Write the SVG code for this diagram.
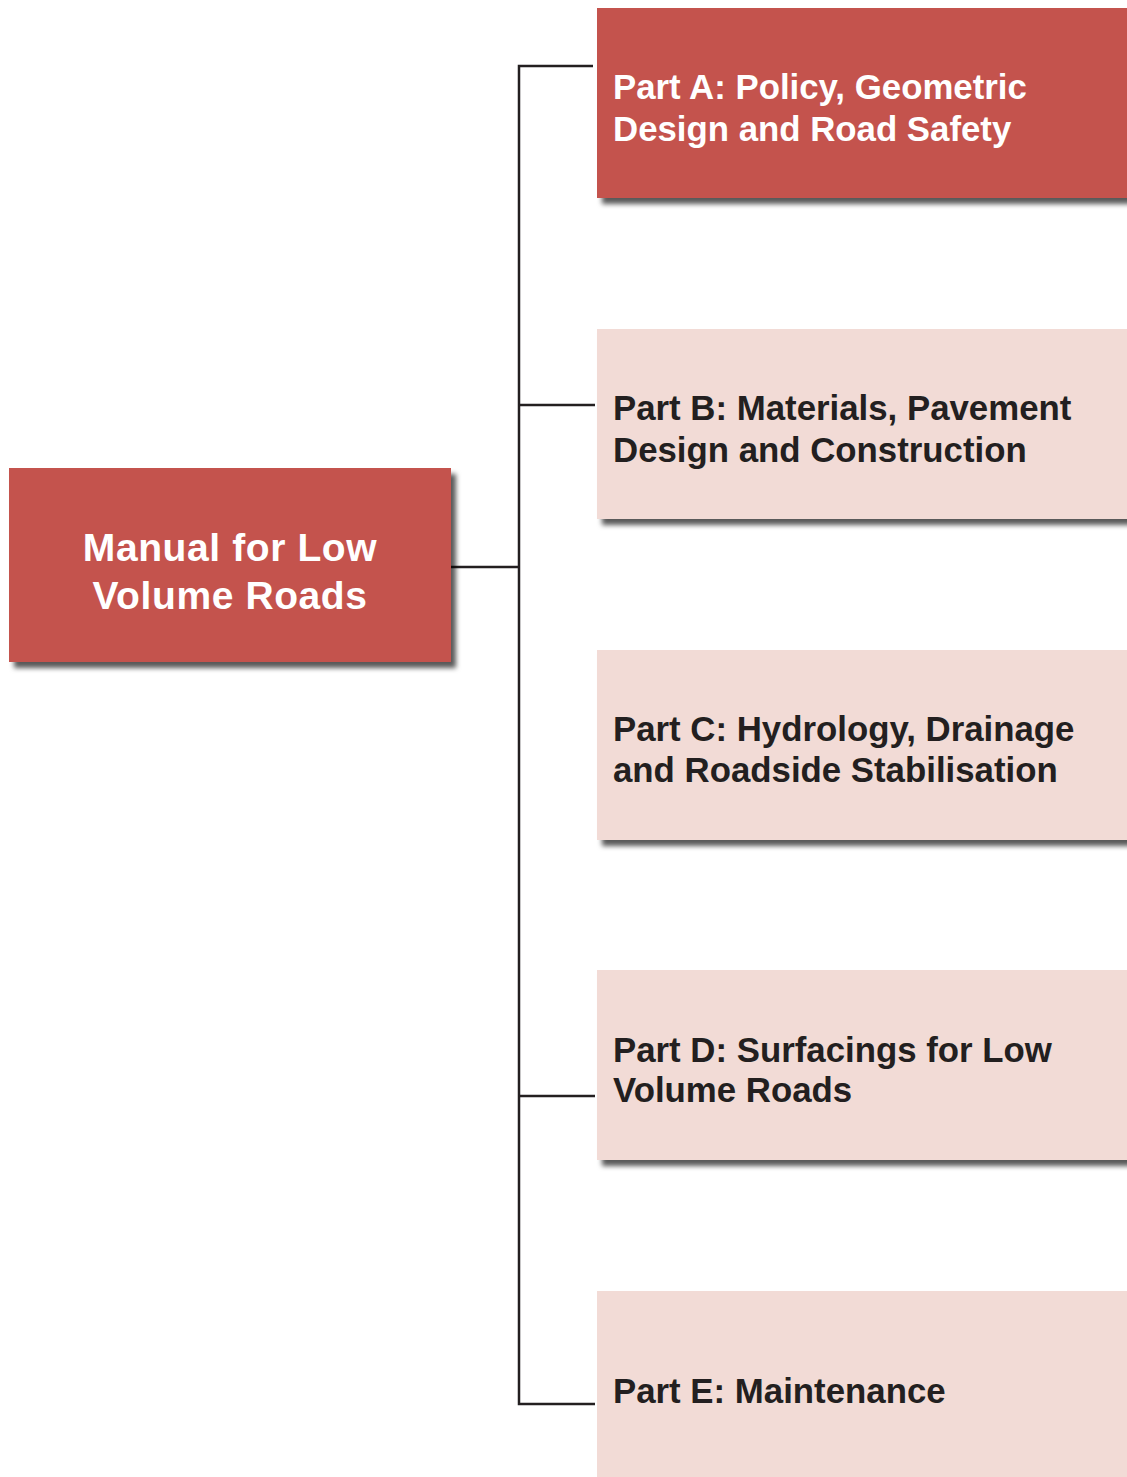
<svg xmlns="http://www.w3.org/2000/svg" width="1127" height="1477" viewBox="0 0 1127 1477">
<style>
.dark{fill:#c4524e}
.light{fill:#f2dbd6}
.t{font-family:"Liberation Sans",Arial,Helvetica,sans-serif;font-weight:bold;font-size:34.8px}
.tw{fill:#ffffff}
.tb{fill:#231f20}
.main{font-family:"Liberation Sans",Arial,Helvetica,sans-serif;font-weight:bold;font-size:39px;letter-spacing:0.6px;fill:#ffffff;text-anchor:middle}
.con{stroke:#231f20;stroke-width:2.5;fill:none}
</style>
<defs>
<filter id="sh" x="-5%" y="-10%" width="115%" height="130%">
<feDropShadow dx="5" dy="6" stdDeviation="2.5" flood-color="#000" flood-opacity="0.65"/>
</filter>
</defs>
<rect width="1127" height="1477" fill="#ffffff"/>
<g id="connectors">
<path class="con" d="M593,66 H519 V1404 H595"/>
<path class="con" d="M519,405 H595"/>
<path class="con" d="M451,567 H519"/>
<path class="con" d="M519,1096 H595"/>
</g>
<g id="main">
<rect class="dark" x="9" y="468" width="442" height="194" filter="url(#sh)"/>
<text class="main" x="230" y="561">Manual for Low</text>
<text class="main" x="230" y="609">Volume Roads</text>
</g>
<g id="partA">
<rect class="dark" x="597" y="8" width="536" height="190" filter="url(#sh)"/>
<text class="t tw" x="613" y="99">Part A: Policy, Geometric</text>
<text class="t tw" x="613" y="141">Design and Road Safety</text>
</g>
<g id="partB">
<rect class="light" x="597" y="329" width="536" height="190" filter="url(#sh)"/>
<text class="t tb" x="613" y="420">Part B: Materials, Pavement</text>
<text class="t tb" x="613" y="462">Design and Construction</text>
</g>
<g id="partC">
<rect class="light" x="597" y="650" width="536" height="190" filter="url(#sh)"/>
<text class="t tb" x="613" y="741">Part C: Hydrology, Drainage</text>
<text class="t tb" x="613" y="782">and Roadside Stabilisation</text>
</g>
<g id="partD">
<rect class="light" x="597" y="970" width="536" height="190" filter="url(#sh)"/>
<text class="t tb" x="613" y="1062">Part D: Surfacings for Low</text>
<text class="t tb" x="613" y="1102">Volume Roads</text>
</g>
<g id="partE">
<rect class="light" x="597" y="1291" width="536" height="200"/>
<text class="t tb" x="613" y="1403">Part E: Maintenance</text>
</g>
</svg>
